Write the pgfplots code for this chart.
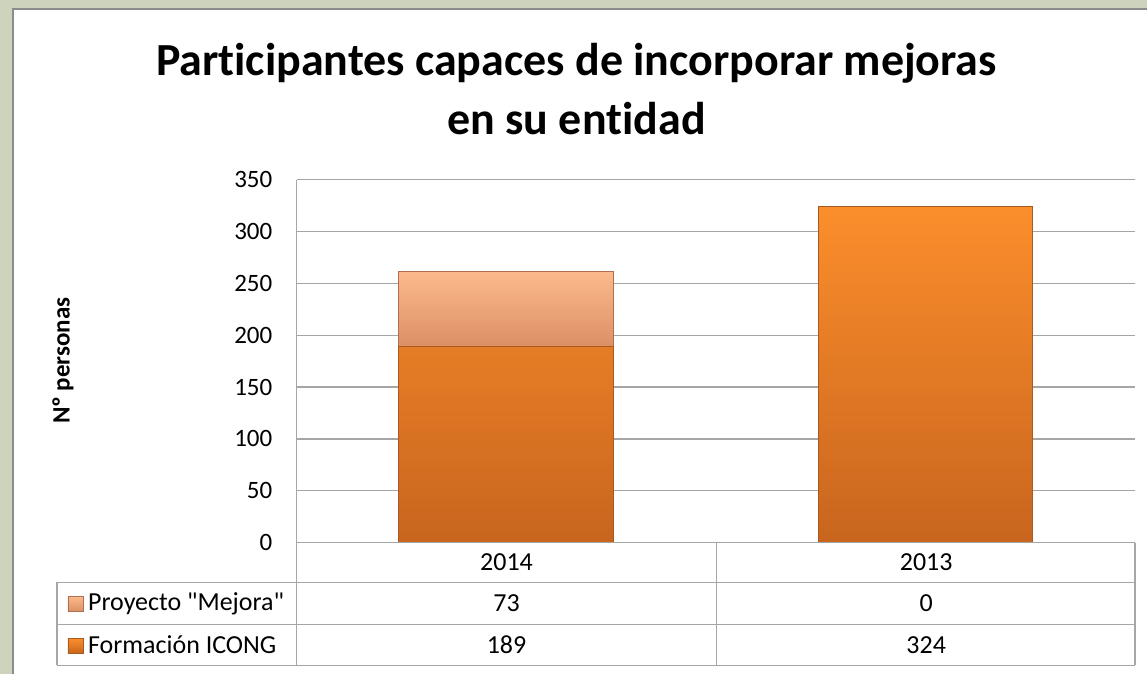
\documentclass[border=0pt]{standalone}
\usepackage{pgfplots}
\pgfplotsset{compat=1.18}
\usepackage{fontspec}
\setmainfont{Carlito}[Ligatures={NoCommon,TeXOff}]

\definecolor{outerbg}{HTML}{CDD3BD}
\definecolor{panelline}{HTML}{8C8C8C}
\definecolor{gridgray}{HTML}{A6A6A6}
\definecolor{ICtop}{HTML}{FB8E2C}
\definecolor{ICbot}{HTML}{C8651E}
\definecolor{ICedge}{HTML}{A85A22}
\definecolor{PMtop}{HTML}{FCB98C}
\definecolor{PMbot}{HTML}{DB9064}
\definecolor{PMedge}{HTML}{B07050}

\newcommand{\tfont}{\fontsize{26bp}{31bp}\selectfont}

\begin{document}
\begin{tikzpicture}[x=1bp,y=1bp]
% frame
\fill[outerbg] (0,0) rectangle (1148,675);
\fill[white] (12,0) rectangle (1148,667);
\draw[panelline, line width=2bp] (13,0) -- (13,666) -- (1148,666);

% title and axis title
\node[anchor=base, font=\fontsize{46bp}{55bp}\selectfont\bfseries] at (577,599) {Participantes capaces de incorporar mejoras};
\node[anchor=base, font=\fontsize{46bp}{55bp}\selectfont\bfseries] at (577,540) {en su entidad};
\node[rotate=90, font=\fontsize{25bp}{30bp}\selectfont\bfseries] at (63,314) {Nº personas};

\begin{axis}[
  at={(297bp,132bp)}, anchor=south west,
  scale only axis, width=839bp, height=363bp,
  xmin=-0.5, xmax=1.5, ymin=0, ymax=350,
  ytick={0,50,...,350}, xtick=\empty,
  ybar stacked, bar width=215bp,
  axis line style={draw=none},
  major tick length=0pt,
  ymajorgrids, grid style={gridgray, line width=1.3bp},
  yticklabel style={font=\fontsize{25bp}{30bp}\selectfont, xshift=-21bp},
  /pgf/number format/assume math mode=true,
  clip=false,
]
% Formación ICONG
\addplot[draw=ICedge, line width=1bp, top color=ICtop, bottom color=ICbot]
  coordinates {(0,189) (1,324)};
% Proyecto "Mejora"
\addplot[draw=PMedge, line width=1bp, top color=PMtop, bottom color=PMbot]
  coordinates {(0,73) (1,0)};
\end{axis}

% data table
\begin{scope}[gridgray, line width=1.3bp]
\draw (297,495) -- (297,9);
\draw (297,132) -- (1136,132);
\draw (57,92) -- (1136,92);
\draw (57,50) -- (1136,50);
\draw (57,9) -- (1136,9);
\draw (57,92) -- (57,9);
\draw (717,132) -- (717,9);
\draw (1136,132) -- (1136,9);
\end{scope}

\node[font=\tfont] at (507,112) {2014};
\node[font=\tfont] at (927,112) {2013};
\node[font=\tfont] at (507,71) {73};
\node[font=\tfont] at (927,71) {0};
\node[font=\tfont] at (507,29.5) {189};
\node[font=\tfont] at (927,29.5) {324};

\shade[top color=PMtop, bottom color=PMbot, draw=PMedge, line width=0.8bp] (68,63) rectangle (83,78);
\shade[top color=ICtop, bottom color=ICbot, draw=ICedge, line width=0.8bp] (68,21) rectangle (83,36);
\node[font=\tfont, anchor=west, inner sep=0pt] at (88,71) {Proyecto "Mejora"};
\node[font=\tfont, anchor=west, inner sep=0pt] at (88,29.5) {Formación ICONG};
\end{tikzpicture}
\end{document}
